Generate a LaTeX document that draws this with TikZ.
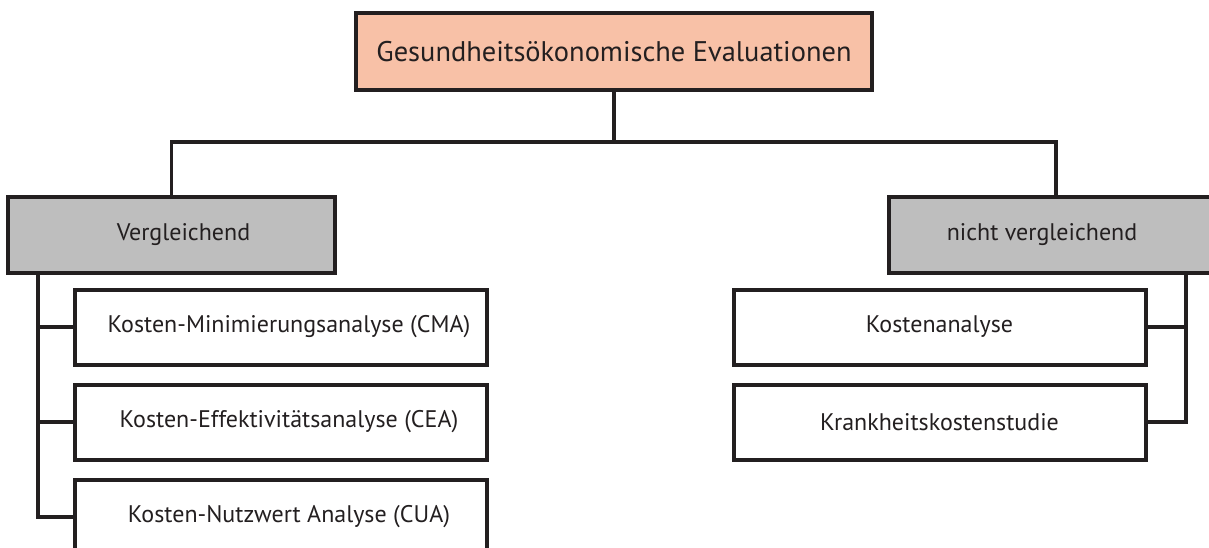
\documentclass[tikz,border=0pt]{standalone}
\usepackage{fontspec}
\setmainfont{PT Sans}
\definecolor{salmon}{HTML}{F8C1A7}
\definecolor{boxgray}{HTML}{BEBEBE}
\definecolor{ink}{HTML}{231F20}
\begin{document}
\begin{tikzpicture}[x=1pt,y=-1pt,
  box/.style={draw=ink, line width=4pt, rectangle, inner sep=0pt, text=ink, font=\fontsize{24}{28}\selectfont},
  topbox/.style={box, fill=salmon, minimum width=516pt, minimum height=77pt, font=\fontsize{28.4}{32}\selectfont},
  catbox/.style={box, fill=boxgray, minimum height=76pt},
  subbox/.style={box, fill=white, minimum width=412pt, minimum height=75pt},
  conn/.style={draw=ink, line width=3.5pt}
]
\useasboundingbox (0,0) rectangle (1209,548);
\fill[white] (0,0) rectangle (1209,548);
\node[topbox] (top) at (614,51.5) {Gesundheitsökonomische Evaluationen};
\node[catbox, minimum width=327pt] (verg) at (171.5,235) {\hspace*{24pt}Vergleichend};
\node[catbox, minimum width=334pt] (nv) at (1056,235) {nicht vergleichend\hspace*{28pt}};
\node[subbox] (k1) at (281,327) {\hspace*{16pt}Kosten-Minimierungsanalyse (CMA)};
\node[subbox] (k2) at (281,422) {\hspace*{16pt}Kosten-Effektivitätsanalyse (CEA)};
\node[subbox] (k3) at (281,517) {\hspace*{16pt}Kosten-Nutzwert Analyse (CUA)};
\node[subbox] (r1) at (939.5,327) {Kostenanalyse};
\node[subbox] (r2) at (939.5,422) {Krankheitskostenstudie};
\coordinate (j) at (614,142);
\coordinate (lv) at (38,273);
\coordinate (rv) at (1186,273);
\draw[conn] (top.south) -- (j);
\draw[conn] (verg.north) |- (j) -| (nv.north);
\draw[conn] (lv) |- (k1.west);
\draw[conn] (lv) |- (k2.west);
\draw[conn] (lv) |- (k3.west);
\draw[conn] (rv) |- (r1.east);
\draw[conn] (rv) |- (r2.east);
\end{tikzpicture}
\end{document}
